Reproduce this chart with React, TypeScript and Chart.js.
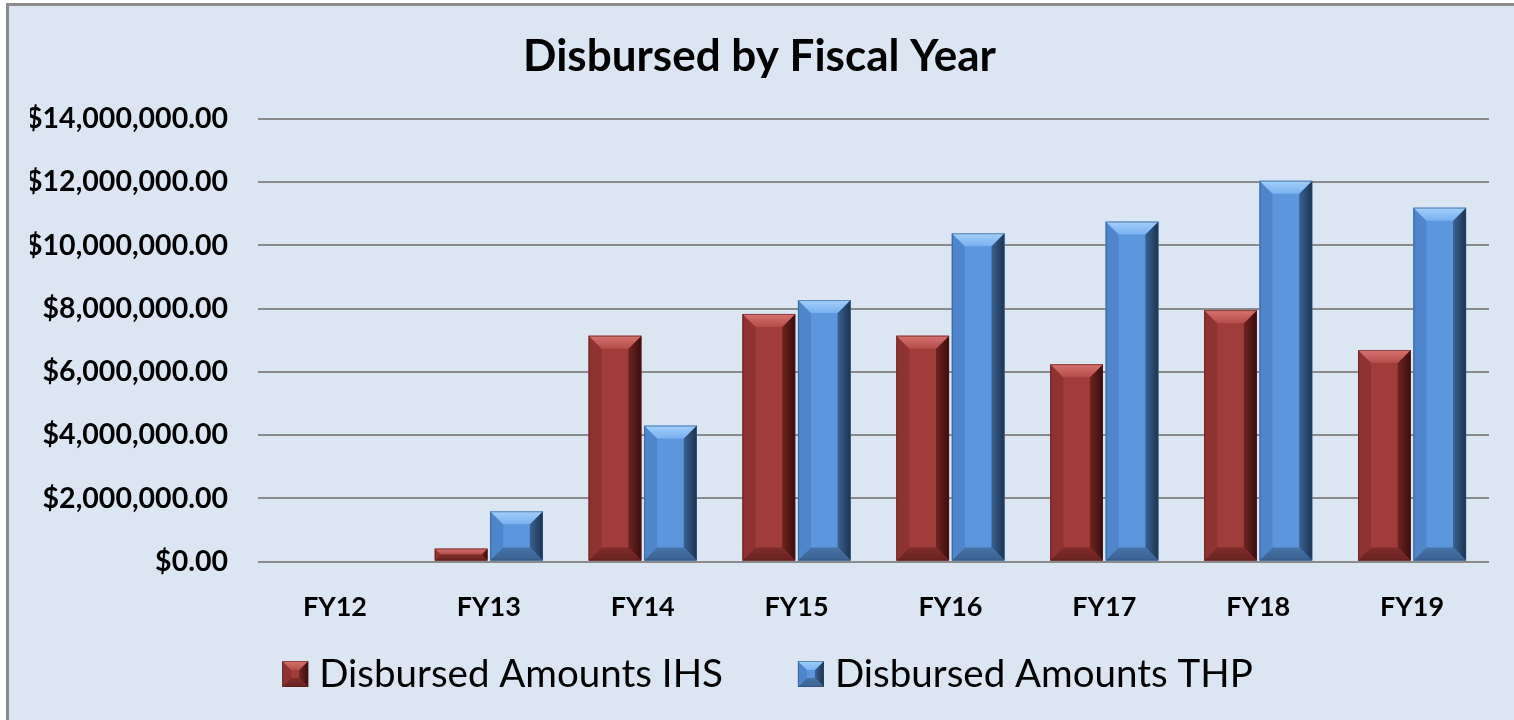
import React, { useEffect, useRef } from 'react';
import { Chart, registerables } from 'chart.js';

Chart.register(...registerables);

const titleText = 'Disbursed by Fiscal Year';
const categories = ['FY12', 'FY13', 'FY14', 'FY15', 'FY16', 'FY17', 'FY18', 'FY19'];
const seriesLabels = ['Disbursed Amounts IHS', 'Disbursed Amounts THP'];
const ihsValues = [0, 410000, 7140000, 7830000, 7140000, 6240000, 7950000, 6690000];
const thpValues = [0, 1590000, 4300000, 8270000, 10380000, 10750000, 12040000, 11190000];
const yMin = 0;
const yMax = 14000000;
const yStep = 2000000;

type Pal = {
  face: string; topA: string; topB: string; left: string;
  rightA: string; rightB: string; bottomA: string; bottomB: string; edge: string;
};

const palettes: Pal[] = [
  { face: '#a03c3a', topA: '#d8736f', topB: '#b44d4a', left: '#8e3331', rightA: '#6e2422', rightB: '#3a0e0d', bottomA: '#7e2c2a', bottomB: '#6a2321', edge: 'rgba(80,25,25,0.55)' },
  { face: '#5c97de', topA: '#a2d0fb', topB: '#79b0ef', left: '#4f86cb', rightA: '#3a6293', rightB: '#1c324f', bottomA: '#4672a6', bottomB: '#3a6190', edge: 'rgba(45,75,115,0.55)' },
];

function poly(ctx: CanvasRenderingContext2D, pts: number[][], fill: string | CanvasGradient) {
  ctx.beginPath();
  ctx.moveTo(pts[0][0], pts[0][1]);
  for (let i = 1; i < pts.length; i++) ctx.lineTo(pts[i][0], pts[i][1]);
  ctx.closePath();
  ctx.fillStyle = fill;
  ctx.fill();
}

function drawBevel(ctx: CanvasRenderingContext2D, l: number, t: number, r: number, bt: number, b: number, pal: Pal) {
  ctx.save();
  ctx.fillStyle = pal.face;
  ctx.fillRect(l, t, r - l, bt - t);
  poly(ctx, [[l, t], [l + b, t + b], [l + b, bt - b], [l, bt]], pal.left);
  const rg = ctx.createLinearGradient(r - b, 0, r, 0);
  rg.addColorStop(0, pal.rightA);
  rg.addColorStop(1, pal.rightB);
  poly(ctx, [[r, t], [r - b, t + b], [r - b, bt - b], [r, bt]], rg);
  const tg = ctx.createLinearGradient(0, t, 0, t + b);
  tg.addColorStop(0, pal.topA);
  tg.addColorStop(1, pal.topB);
  poly(ctx, [[l, t], [r, t], [r - b, t + b], [l + b, t + b]], tg);
  const bg = ctx.createLinearGradient(0, bt - b, 0, bt);
  bg.addColorStop(0, pal.bottomA);
  bg.addColorStop(1, pal.bottomB);
  poly(ctx, [[l, bt], [r, bt], [r - b, bt - b], [l + b, bt - b]], bg);
  ctx.strokeStyle = pal.edge;
  ctx.lineWidth = 1;
  ctx.strokeRect(l + 0.5, t + 0.5, r - l - 1, bt - t - 1);
  ctx.restore();
}

const bevelPlugin = {
  id: 'bevelBars',
  afterDatasetsDraw(chart: any) {
    const ctx = chart.ctx as CanvasRenderingContext2D;
    chart.data.datasets.forEach((_ds: any, i: number) => {
      const meta = chart.getDatasetMeta(i);
      if (meta.hidden) return;
      meta.data.forEach((el: any) => {
        const p = el.getProps(['x', 'y', 'base', 'width'], true);
        const l = p.x - p.width / 2;
        const r = p.x + p.width / 2;
        const t = Math.min(p.y, p.base);
        const bt = Math.max(p.y, p.base);
        if (bt - t < 0.5) return;
        const b = Math.min(13, (bt - t) / 2, p.width / 2);
        drawBevel(ctx, l, t, r, bt, b, palettes[i]);
      });
    });
  },
};

const legendPlugin = {
  id: 'bevelLegend',
  afterDraw(chart: any) {
    const ctx = chart.ctx as CanvasRenderingContext2D;
    ctx.save();
    ctx.font = '38.5px Lato';
    const box = 26;
    const gap = 11;
    const spacing = 75;
    const items = chart.data.datasets.map((ds: any, i: number) => ({
      text: ds.label as string,
      w: ctx.measureText(ds.label).width,
      pal: palettes[i],
    }));
    const total = items.reduce((s: number, it: any) => s + box + gap + it.w, 0) + spacing * (items.length - 1);
    let x = chart.width / 2 + 10.5 - total / 2;
    const boxTop = chart.height - 59;
    const baseline = chart.height - 33;
    items.forEach((it: any) => {
      drawBevel(ctx, x, boxTop, x + box, boxTop + box, 9, it.pal);
      ctx.fillStyle = '#000000';
      ctx.textBaseline = 'alphabetic';
      ctx.textAlign = 'left';
      ctx.fillText(it.text, x + box + gap, baseline);
      x += box + gap + it.w + spacing;
    });
    ctx.restore();
  },
};

export default function App() {
  const ref = useRef<HTMLCanvasElement | null>(null);

  useEffect(() => {
    document.body.style.margin = '0';
    document.body.style.overflow = 'hidden';
    if (!ref.current) return;
    const chart = new Chart(ref.current, {
      type: 'bar',
      data: {
        labels: categories,
        datasets: [
          { label: seriesLabels[0], data: ihsValues, backgroundColor: palettes[0].face, borderWidth: 0 },
          { label: seriesLabels[1], data: thpValues, backgroundColor: palettes[1].face, borderWidth: 0 },
        ],
      },
      options: {
        responsive: false,
        animation: false,
        devicePixelRatio: 1,
        layout: { padding: { left: 30, right: 25, top: 0, bottom: 68 } },
        datasets: { bar: { categoryPercentage: 0.72, barPercentage: 0.95 } },
        plugins: {
          legend: { display: false },
          tooltip: { enabled: false },
          title: {
            display: true,
            text: titleText,
            color: '#000000',
            font: { family: 'Lato', size: 44, weight: 'bold', lineHeight: 1.2 },
            padding: { top: 30, bottom: 36 },
          },
        },
        scales: {
          x: {
            grid: { display: false, drawTicks: false },
            border: { display: false },
            ticks: {
              color: '#000000',
              padding: 29,
              font: { family: 'Lato', size: 27, weight: 'bold', lineHeight: 1.2 },
            },
          },
          y: {
            min: yMin,
            max: yMax,
            afterFit: (scale: any) => { scale.width = 228; },
            grid: { color: '#8a8a8a', lineWidth: 2, drawTicks: false },
            border: { display: false },
            ticks: {
              stepSize: yStep,
              color: '#000000',
              padding: 30,
              font: { family: 'Lato', size: 28.5, weight: 'bold', lineHeight: 1.2 },
              callback: (v: any) => '$' + Number(v).toLocaleString('en-US', { minimumFractionDigits: 2, maximumFractionDigits: 2 }),
            },
          },
        },
      },
      plugins: [bevelPlugin, legendPlugin],
    });
    return () => chart.destroy();
  }, []);

  return (
    <div style={{ position: 'fixed', left: 0, top: 0, right: 0, bottom: 0, background: '#ffffff', overflow: 'hidden' }}>
      <div
        style={{
          position: 'absolute', left: 6, top: 3, right: -40, bottom: -40,
          background: '#dce6f2', borderLeft: '3px solid #8c8c8c', borderTop: '3px solid #8c8c8c',
        }}
      />
      <canvas ref={ref} width={1514} height={720} style={{ position: 'absolute', left: 0, top: 0, width: 1514, height: 720 }} />
    </div>
  );
}
